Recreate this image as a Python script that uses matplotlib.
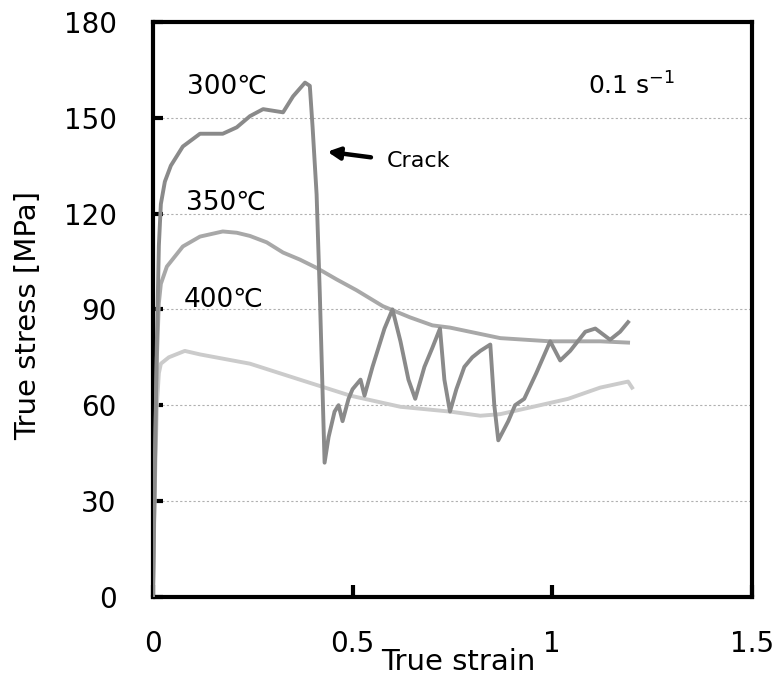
import matplotlib
matplotlib.use("Agg")
import matplotlib.pyplot as plt

# stress-strain data
strain_300 = [0, 0.005, 0.01, 0.015, 0.02, 0.03, 0.045, 0.075, 0.118, 0.175, 0.21, 0.243,
              0.276, 0.326, 0.351, 0.381, 0.393, 0.40, 0.41, 0.418, 0.43, 0.44, 0.455,
              0.465, 0.475, 0.49, 0.50, 0.52, 0.53, 0.55, 0.58, 0.60, 0.62, 0.64, 0.657,
              0.68, 0.70, 0.719, 0.73, 0.744, 0.76, 0.78, 0.80, 0.82, 0.845, 0.855, 0.865,
              0.89, 0.907, 0.93, 0.96, 0.995, 1.02, 1.045, 1.083, 1.108, 1.145, 1.17, 1.19]
stress_300 = [0, 40, 80, 110, 123, 130, 135, 141, 145, 145, 147, 150.5,
              152.7, 151.7, 156.7, 161, 160, 147, 126, 95, 42, 50, 58,
              60, 55, 62, 65, 68, 63, 72, 84, 90, 80, 68, 62,
              72, 78, 84, 68, 58, 65, 72, 75, 77, 79, 60, 49,
              55, 60, 62, 70, 80, 74, 77, 83, 84, 80.5, 83, 86]

strain_350 = [0, 0.005, 0.01, 0.015, 0.02, 0.035, 0.075, 0.118, 0.175, 0.21, 0.243, 0.285,
              0.326, 0.368, 0.41, 0.46, 0.51, 0.576, 0.644, 0.70, 0.744, 0.87, 0.995,
              1.12, 1.19]
stress_350 = [0, 40, 75, 92, 98, 103.4, 109.7, 112.8, 114.4, 114, 113, 111,
              107.8, 105.6, 103, 99.4, 96, 91, 87.5, 85, 84.3, 81, 80,
              80, 79.6]

strain_400 = [0, 0.005, 0.01, 0.015, 0.02, 0.04, 0.08, 0.118, 0.243, 0.368, 0.494, 0.62,
              0.744, 0.82, 0.87, 0.952, 1.04, 1.12, 1.19, 1.2]
stress_400 = [0, 35, 60, 70, 73, 75, 77, 75.9, 73, 68, 63, 59.5,
              58, 56.7, 57.2, 59.5, 62, 65.5, 67.4, 65.5]

temps = ["300℃", "350℃", "400℃"]
colors = ["#8a8a8a", "#a8a8a8", "#cbcbcb"]
y_ticks = [0, 30, 60, 90, 120, 150, 180]
x_ticks = [0, 0.5, 1, 1.5]
x_ticklabels = ["0", "0.5", "1", "1.5"]

fig = plt.figure(figsize=(7.84, 6.86), dpi=100)
ax = fig.add_axes([0.195, 0.13, 0.764, 0.838])

for grid_y in y_ticks[1:-1]:
    ax.axhline(grid_y, color="#b0b0b0", lw=0.8, ls=(0, (2, 2)), zorder=0)

ax.plot(strain_400, stress_400, color=colors[2], lw=2.8, zorder=2)
ax.plot(strain_350, stress_350, color=colors[1], lw=2.8, zorder=3)
ax.plot(strain_300, stress_300, color=colors[0], lw=2.8, zorder=4)

ax.set_xlim(0, 1.5)
ax.set_ylim(0, 180)
ax.set_xticks(x_ticks)
ax.set_xticklabels(x_ticklabels)
ax.set_yticks(y_ticks)

for s in ax.spines.values():
    s.set_linewidth(3)
ax.tick_params(axis="both", direction="in", labelsize=20, width=3, length=7)
ax.tick_params(axis="x", pad=24, length=9)
ax.tick_params(axis="y", pad=26)

ax.set_xlabel("True strain", fontsize=21)
ax.xaxis.set_label_coords(0.51, -0.113)
ax.xaxis.label.set_va("center")
ax.set_ylabel("True stress [MPa]", fontsize=21)
ax.yaxis.set_label_coords(-0.208, 0.49)
ax.yaxis.label.set_va("center")

ax.text(0.185, 159.6, temps[0], fontsize=19, ha="center", va="center")
ax.text(0.183, 123.5, temps[1], fontsize=19, ha="center", va="center")
ax.text(0.178, 93, temps[2], fontsize=19, ha="center", va="center")
ax.text(1.2, 160, "0.1 s$^{-1}$", fontsize=18, ha="center", va="center")

ax.annotate("", xy=(0.43, 139.5), xytext=(0.553, 137.5),
            arrowprops=dict(arrowstyle="-|>", color="black", lw=3.2, mutation_scale=18))
ax.text(0.585, 136.4, "Crack", fontsize=16, ha="left", va="center")

fig.savefig("out.png", dpi=100)
